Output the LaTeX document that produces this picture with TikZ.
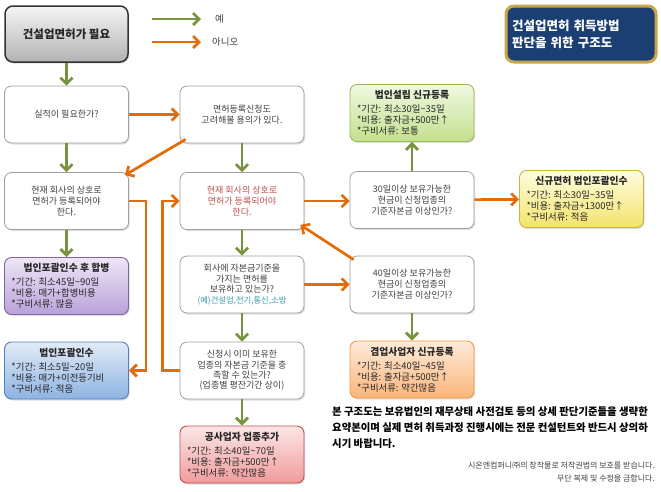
\documentclass[tikz,border=0pt]{standalone}
\usepackage{fontspec}
\setmainfont{Noto Sans CJK KR}
\usetikzlibrary{arrows.meta,shadows,calc}
\definecolor{gr}{HTML}{77933C}
\definecolor{org}{HTML}{E36C09}
\definecolor{txt}{HTML}{404040}
\definecolor{dtxt}{HTML}{262626}
\definecolor{rose}{HTML}{C0504D}
\definecolor{teal}{HTML}{3B9BB0}
\definecolor{navy}{HTML}{1B3F72}
\definecolor{gold}{HTML}{C9A54A}
\definecolor{HTMLpurp}{HTML}{8064A2}
\definecolor{HTMLpurpT}{HTML}{EEE6F7}
\definecolor{HTMLpurpB}{HTML}{B9A1D8}
\definecolor{blueD}{HTML}{4F81BD}
\definecolor{blueT}{HTML}{E2EBF7}
\definecolor{blueB}{HTML}{8DB3E2}
\definecolor{grnD}{HTML}{9BBB59}
\definecolor{grnT}{HTML}{F0F8E0}
\definecolor{grnB}{HTML}{C3E08E}
\definecolor{yelD}{HTML}{C8B440}
\definecolor{yelT}{HTML}{FFFDE0}
\definecolor{yelB}{HTML}{F2E36B}
\definecolor{ornD}{HTML}{F79646}
\definecolor{ornT}{HTML}{FEEBDA}
\definecolor{ornB}{HTML}{F9B57A}
\definecolor{redD}{HTML}{C0504D}
\definecolor{redT}{HTML}{FCE6E6}
\definecolor{redB}{HTML}{F09C9C}
\newcommand{\infobox}[4]{\parbox{110pt}{\centering\fontsize{9.8}{12}\selectfont\bfseries #1\par\vspace{3pt}\raggedright\fontsize{9.4}{11}\selectfont\mdseries #2\par #3\par #4}}
\tikzset{
  sh/.style={drop shadow={shadow xshift=1.2pt,shadow yshift=-1.5pt,opacity=0.25}},
  qbox/.style={sh,draw=gray!75,line width=0.8pt,rounded corners=7pt,fill=white,
    minimum width=124pt,minimum height=57pt,align=center,text=txt,
    font=\fontsize{9}{11}\selectfont,inner sep=2pt},
  cbox/.style={sh,rounded corners=7pt,minimum width=124pt,minimum height=57pt,
    line width=0.9pt,text=dtxt,inner sep=2pt},
  yes/.style={draw=gr,line width=2.7pt,-{Straight Barb[length=6pt,width=12pt]}},
  no/.style={draw=org,line width=2.7pt,-{Straight Barb[length=6pt,width=12pt]}},
}
\begin{document}
\begin{tikzpicture}[x=1pt,y=-1pt]
\useasboundingbox (0,0) rectangle (661,491);
\fill[white] (0,0) rectangle (661,491);

% top box
\node[sh,draw=black!80,line width=1.5pt,rounded corners=8pt,top color=gray!8,bottom color=gray!60,
  minimum width=123pt,minimum height=56pt,font=\fontsize{11.5}{13}\selectfont\bfseries,text=dtxt] (A) at (66.5,34) {건설업면허가 필요};

% legend
\coordinate (ly1) at (152,19); \coordinate (ly2) at (201,19);
\coordinate (ln1) at (152,42); \coordinate (ln2) at (201,42);
\draw[yes] (ly1) -- (ly2);
\draw[no] (ln1) -- (ln2);
\node[text=txt,font=\fontsize{9.5}{10}\selectfont,anchor=west,inner sep=0pt] (lyes) at (215,19) {예};
\node[text=txt,font=\fontsize{9.5}{10}\selectfont,anchor=west,inner sep=0pt] (lno) at (212,42) {아니오};

% title
\node[draw=gold,line width=3pt,rounded corners=8pt,fill=navy,minimum width=150pt,minimum height=56pt,
  text width=138pt,align=left,text=white,font=\fontsize{12.5}{17}\selectfont\bfseries] (T) at (581,34)
  {건설업면허 취득방법\\판단을 위한 구조도};

% question boxes
\node[qbox] (B) at (66.5,114.5) {실적이 필요한가?};
\node[qbox] (C) at (242,114.5) {면허등록신청도\\고려해볼 용의가 있다.};
\node[qbox] (D) at (66.5,201) {현재 회사의 상호로\\면허가 등록되어야\\한다.};
\node[qbox,text=rose] (E) at (242,201) {현재 회사의 상호로\\면허가 등록되어야\\한다.};
\node[qbox] (F) at (412,200) {30일이상 보유가능한\\현금이 신청업종의\\기준자본금 이상인가?};
\node[qbox,font=\fontsize{9}{10.5}\selectfont] (J) at (242,284.5) {회사에 자본금기준을\\가지는 면허를\\보유하고 있는가?\\{\color{teal}\fontsize{8.3}{10}\selectfont (예)건설업,전기,통신,소방}};
\node[qbox] (K) at (412,284.5) {40일이상 보유가능한\\현금이 신청업종의\\기준자본금 이상인가?};
\node[qbox,font=\fontsize{9}{10.3}\selectfont] (M) at (242,370.5) {신청시 이미 보유한\\업종의 자본금 기준을 충\\족할 수 있는가?\\(업종별 평잔기간 상이)};

% result boxes
\node[cbox,draw=HTMLpurp,top color=HTMLpurpT,bottom color=HTMLpurpB] (I) at (66.5,286) {\infobox{법인포괄인수 후 합병}{*기간: 최소45일\textasciitilde 90일}{*비용: 매가+합병비용}{*구비서류: 많음}};
\node[cbox,draw=blueD,top color=blueT,bottom color=blueB] (L) at (66.5,370.5) {\infobox{법인포괄인수}{*기간: 최소5일\textasciitilde 20일}{*비용: 매가+이전등기비}{*구비서류: 적음}};
\node[cbox,draw=grnD,top color=grnT,bottom color=grnB] (H) at (412,113) {\infobox{법인설립 신규등록}{*기간: 최소30일\textasciitilde 35일}{*비용: 출자금+500만↑}{*구비서류: 보통}};
\node[cbox,draw=yelD,top color=yelT,bottom color=yelB] (G) at (581.5,199) {\infobox{신규면허 법인포괄인수}{*기간: 최소30일\textasciitilde 35일}{*비용: 출자금+1300만↑}{*구비서류: 적음}};
\node[cbox,draw=ornD,top color=ornT,bottom color=ornB] (N) at (412,369.5) {\infobox{겸업사업자 신규등록}{*기간: 최소40일\textasciitilde 45일}{*비용: 출자금+500만↑}{*구비서류: 약간많음}};
\node[cbox,draw=redD,top color=redT,bottom color=redB] (O) at (242,454.5) {\infobox{공사업자 업종추가}{*기간: 최소40일\textasciitilde 70일}{*비용: 출자금+500만↑}{*구비서류: 약간많음}};

% yes connectors
\draw[yes] (A) -- (B);
\draw[yes] (B) -- (D);
\draw[yes] (D) -- (I);
\draw[yes] (C) -- (E);
\draw[yes] (E) -- (J);
\draw[yes] (J) -- (M);
\draw[yes] (M) -- (O);
\draw[yes] (F) -- (H);
\draw[yes] (K) -- (N);

% no connectors
\draw[no] (B) -- (C);
\draw[no] ([xshift=6pt,yshift=4pt]C.south west) -- ([xshift=-4pt,yshift=-3pt]D.north east);
\draw[no] (D.east) -- ++(17,0) |- (L.east);
\draw[no] (M.west) -- ++(-17,0) |- (E.west);
\draw[no] (E.east) -- (F.west |- E.east);
\draw[no] (F) -- (G);
\draw[no] (J.east) -- (K.west |- J.east);
\draw[no] ([xshift=4pt,yshift=-4pt]K.north west) -- ([xshift=-4pt,yshift=5pt]E.south east);

% notes
\node[anchor=north west,align=left,text=black,font=\fontsize{10.4}{16}\selectfont\bfseries,inner sep=0pt] (note) at (332,407)
  {본 구조도는 보유법인의 재무상태 사전검토 등의 상세 판단기준들을 생략한\\요약본이며 실제 면허 취득과정 진행시에는 전문 컨설턴트와 반드시 상의하\\시기 바랍니다.};
\node[anchor=north east,align=right,text=txt,font=\fontsize{8}{12.5}\selectfont,inner sep=0pt] (copy) at (655,462)
  {시온엔컴퍼니㈜의 창작물로 저작권법의 보호를 받습니다.\\무단 복제 및 수정을 금합니다.};
\end{tikzpicture}
\end{document}
